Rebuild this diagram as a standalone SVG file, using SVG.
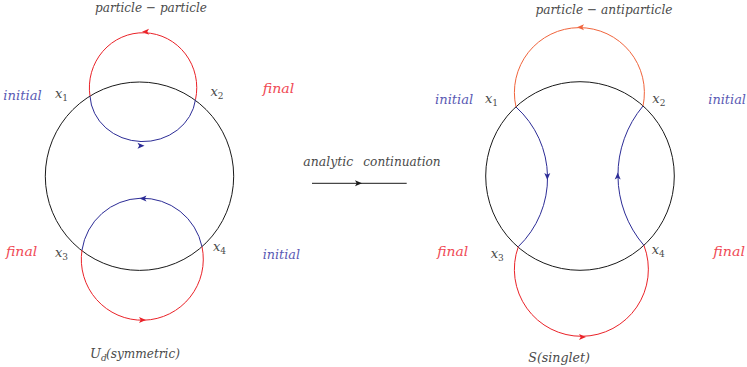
<svg xmlns="http://www.w3.org/2000/svg" width="747" height="367" viewBox="0 0 747 367">
<style>
  .t { font-family: "DejaVu Serif", "Liberation Serif", serif; font-style: italic; font-size: 13px; fill: #4a4a4a; }
  .ini { fill: #5a5ab4; }
  .fin { fill: #f04a55; }
  .sub { font-size: 9px; font-style: normal; }
  .subi { font-size: 9px; }
  .ring { fill: none; stroke: #1a1a1a; stroke-width: 1; }
  .red { fill: none; stroke: #ea2228; stroke-width: 1; }
  .org { fill: none; stroke: #f0643c; stroke-width: 1; }
  .blu { fill: none; stroke: #2c2c96; stroke-width: 1; }
  .blk { fill: none; stroke: #1a1a1a; stroke-width: 1; }
</style>
<defs>
  <path id="ah" d="M0,0 L-7,-3 L-5.3,0 L-7,3 Z"/>
</defs>

<!-- Left diagram -->
<g id="left-ring"><circle class="ring" cx="139.5" cy="176.2" r="94.2"/></g>
<g id="left-x1"><text class="t" x="55" y="98">x<tspan class="sub" dy="3">1</tspan></text></g>
<g id="left-x2"><text class="t" x="210.5" y="96">x<tspan class="sub" dy="3">2</tspan></text></g>
<g id="left-x3"><text class="t" x="55" y="257">x<tspan class="sub" dy="3">3</tspan></text></g>
<g id="left-x4"><text class="t" x="213" y="251">x<tspan class="sub" dy="3">4</tspan></text></g>
<g id="left-labels">
  <text class="t" x="95" y="11.5" textLength="112" lengthAdjust="spacingAndGlyphs">particle − particle</text>
  <text class="t ini" x="3.3" y="100" textLength="38.4" lengthAdjust="spacingAndGlyphs">initial</text>
  <text class="t fin" x="262.7" y="93" textLength="31.6" lengthAdjust="spacingAndGlyphs">final</text>
  <text class="t fin" x="6" y="255.5" textLength="31.3" lengthAdjust="spacingAndGlyphs">final</text>
  <text class="t ini" x="262.7" y="259" textLength="37.3" lengthAdjust="spacingAndGlyphs">initial</text>
  <text class="t" x="90" y="358">U<tspan class="subi" dy="3">d</tspan></text>
  <text class="t" x="106" y="358" textLength="74" lengthAdjust="spacingAndGlyphs">(symmetric)</text>
</g>

<!-- Middle -->
<g id="middle">
  <text class="t" x="303.3" y="166" textLength="50" lengthAdjust="spacingAndGlyphs">analytic</text>
  <text class="t" x="363.3" y="166" textLength="77.4" lengthAdjust="spacingAndGlyphs">continuation</text>
</g>

<!-- Right diagram -->
<g id="right-ring"><circle class="ring" cx="580" cy="176" r="94.3"/></g>
<g id="right-x1"><text class="t" x="485" y="103">x<tspan class="sub" dy="3">1</tspan></text></g>
<g id="right-x2"><text class="t" x="652.3" y="103">x<tspan class="sub" dy="3">2</tspan></text></g>
<g id="right-x3"><text class="t" x="490.7" y="258">x<tspan class="sub" dy="3">3</tspan></text></g>
<g id="right-x4"><text class="t" x="651.7" y="254">x<tspan class="sub" dy="3">4</tspan></text></g>
<g id="right-labels">
  <text class="t" x="535.5" y="14" textLength="137" lengthAdjust="spacingAndGlyphs">particle − antiparticle</text>
  <text class="t ini" x="435" y="104" textLength="38.3" lengthAdjust="spacingAndGlyphs">initial</text>
  <text class="t ini" x="708.3" y="104" textLength="37.7" lengthAdjust="spacingAndGlyphs">initial</text>
  <text class="t fin" x="437.3" y="256" textLength="31" lengthAdjust="spacingAndGlyphs">final</text>
  <text class="t fin" x="713.3" y="256" textLength="31.7" lengthAdjust="spacingAndGlyphs">final</text>
  <text class="t" x="528.3" y="362" textLength="61.7" lengthAdjust="spacingAndGlyphs">S(singlet)</text>
</g>

<!-- Connectors -->
<g id="connectors">
  <!-- left top loop -->
  <path class="red" d="M90,96.2 A53.7,55 0 1,1 195.5,99.6"/>
  <path class="blu" d="M90,96.2 A53,48 0 0,0 195.5,99.6"/>
  <use href="#ah" fill="#ea2228" transform="translate(142,31.8) rotate(180)"/>
  <use href="#ah" fill="#2c2c96" transform="translate(144.5,145.7)"/>
  <!-- left bottom loop -->
  <path class="blu" d="M82,250 A61,61 0 0,1 202,246.7"/>
  <path class="red" d="M82,250 A61,61 0 1,0 202,246.7"/>
  <use href="#ah" fill="#2c2c96" transform="translate(139.5,198.6) rotate(180)"/>
  <use href="#ah" fill="#ea2228" transform="translate(146,320)"/>
  <!-- middle arrow -->
  <path class="blk" d="M312,183.3 H406.7"/>
  <use href="#ah" fill="#1a1a1a" transform="translate(362,183.3)"/>
  <!-- right top -->
  <path class="org" d="M516,107 A65,65 0 1,1 643,106"/>
  <use href="#ah" fill="#f0643c" transform="translate(577,27.2) rotate(180)"/>
  <!-- right blue -->
  <path class="blu" d="M516,107 A95.5,95.5 0 0,1 518.3,246.7"/>
  <path class="blu" d="M643,106 A108,108 0 0,0 644,245.5"/>
  <use href="#ah" fill="#2c2c96" transform="translate(547.3,180) rotate(90)"/>
  <use href="#ah" fill="#2c2c96" transform="translate(617.7,172.5) rotate(-90)"/>
  <!-- right bottom -->
  <path class="red" d="M518.3,246.7 A67,67 0 1,0 644,245.5"/>
  <use href="#ah" fill="#ea2228" transform="translate(586,337)"/>
</g>
</svg>
